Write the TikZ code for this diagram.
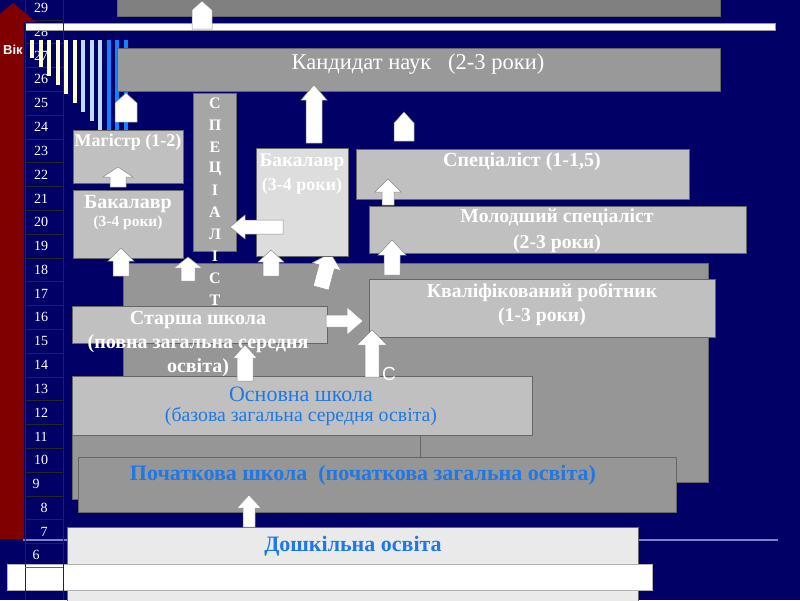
\documentclass[tikz,border=0pt]{standalone}
\usepackage{fontspec}
\setmainfont{Liberation Serif}
\setsansfont{Liberation Sans}
\usepackage{tikz}
\usetikzlibrary{fit}
\definecolor{navy}{RGB}{0,0,102}
\definecolor{vikred}{RGB}{128,0,0}
\definecolor{topgray}{RGB}{128,128,128}
\definecolor{kandgray}{RGB}{153,153,153}
\definecolor{midgray}{RGB}{150,150,150}
\definecolor{specgray}{RGB}{166,166,166}
\definecolor{boxlight}{RGB}{192,192,192}
\definecolor{palegray}{RGB}{221,221,221}
\definecolor{snowgray}{RGB}{234,234,234}
\definecolor{txtblue}{RGB}{30,120,230}
\definecolor{cream}{RGB}{255,255,204}
\definecolor{skyblue}{RGB}{190,220,255}
\definecolor{brightblue}{RGB}{20,130,255}
\definecolor{lavender}{RGB}{128,128,200}
\newcommand{\fs}[2]{\fontsize{#1}{#2}\selectfont}
% block arrow: x, y (tail), angle, length, shaft half, head half, head length
\newcommand{\barr}[7]{\draw[blockarr, shift={(#1,#2)}, rotate=#3]
  (0,-#5) -- (#4-#7,-#5) -- (#4-#7,-#6) -- (#4,0) -- (#4-#7,#6) -- (#4-#7,#5) -- (0,#5) -- cycle;}

\begin{document}
\begin{tikzpicture}[x=1pt,y=-1pt,
  box/.style={draw=black!60, line width=0.6pt, inner sep=0pt},
  blockarr/.style={fill=white, draw=black!45, line width=0.5pt},
  grid/.style={draw=black!85, line width=0.7pt},
  lbl/.style={text=white, inner sep=0pt, align=center},
  bluelbl/.style={text=txtblue, inner sep=0pt, align=center},
  num/.style={text=white, inner sep=0pt, font=\fs{14}{15}}]
\useasboundingbox (0,0) rectangle (800,600);
\fill[navy] (0,0) rectangle (800,600);
\draw[lavender, line width=2pt] (23,540) -- (778,540);
        % Age column
        \foreach \k in {0,...,23} \draw[grid] (25,20+23.8*\k) -- (63,20+23.8*\k);
        \foreach \n [count=\k from 0] in {29,28,...,10} \node[num] (age\n) at (41,8+23.8*\k) {\n};
        \foreach \n/\xx [count=\k from 20] in {9/36,8/44,7/44,6/36} \node[num] (age\n) at (\xx,8+23.8*\k) {\n};
        % Top
        \node[box, draw=black!40, fill=white, fit={(25,23) (775,30)}] (wline) {};
        \node[box, fill=topgray, fit={(117,-5) (720,16)}] (doct) {};
        \barr{202}{29}{90}{28}{10}{10}{9}
        \foreach \sx/\sy in {32/58,40.5/67,49/76,57.5/85,66/94,74.5/103} \fill[cream] (\sx-2,40) rectangle (\sx+2,\sy);
        \foreach \sx/\sy in {83/112,91.5/121,100/130} \fill[skyblue] (\sx-2,40) rectangle (\sx+2,\sy);
        \foreach \sx in {108.5,117,125.5} \fill[brightblue] (\sx-2,40) rectangle (\sx+2,130);
        \node[box, fill=kandgray, fit={(117,48) (720,91)}] (kand) {};
        \node[lbl, font=\fs{22.5}{24}] (kandtxt) at (418,64) {Кандидат наук\ \ \ (2-3 роки)};
        \barr{126}{122}{90}{29}{11}{11}{10}
        \barr{314}{143}{90}{58}{8}{13}{15}
        \barr{404}{141}{90}{29}{10}{10}{11}
        % Background blocks
        \node[box, fill=midgray, fit={(123,263) (708,482)}] (school) {};
        \node[box, fill=midgray, fit={(72,376) (420,499)}] (basic) {};
        \barr{321}{288}{75}{36}{8}{15}{14}
        % Higher education
        \node[box, fill=boxlight, fit={(73,130) (183,183)}] (mag) {};
        \node[lbl, font=\fs{18}{20}\bfseries] (magtxt) at (128,142) {Магістр (1-2)};
        \node[box, fill=boxlight, fit={(73,190) (183,258)}] (bakl) {};
        \node[lbl, font=\fs{20}{22}\bfseries] (bakltxt) at (128,204) {Бакалавр};
        \node[lbl, font=\fs{15.5}{17}\bfseries] (bakltime) at (128,223) {(3-4 роки)};
        \node[box, fill=specgray, fit={(193,93) (236,251)}] (spec) {};
        \node[box, fill=palegray, fit={(256,148) (348,256)}] (bakm) {};
        \node[lbl, font=\fs{19.3}{21}\bfseries] (bakmtxt) at (302,162) {Бакалавр};
        \node[lbl, font=\fs{18}{20}\bfseries] (bakmtime) at (302,186) {(3-4 роки)};
        \node[box, fill=boxlight, fit={(356,149) (689,199)}] (specl) {};
        \node[lbl, font=\fs{20}{22}\bfseries] (specltxt) at (522,162) {Спеціаліст (1-1,5)};
        \node[box, fill=boxlight, fit={(369,206) (746,253)}] (molod) {};
        \node[lbl, font=\fs{19.7}{26}\bfseries] (molodtxt) at (557,231) {Молодший спеціаліст\\(2-3 роки)};
        \node[box, fill=boxlight, fit={(369,279) (715,337)}] (kval) {};
        \node[lbl, font=\fs{19.7}{24}\bfseries] (kvaltxt) at (542,305) {Кваліфікований робітник\\(1-3 роки)};
        \foreach \l [count=\i from 0] in {С,П,Е,Ц,І,А,Л,І,С,Т}
          \node[lbl, font=\fs{16}{17}\bfseries] (sp\i) at (215,103+21.9*\i) {\l};
        % Arrows between levels
        \barr{118}{187}{90}{20}{8}{15}{10}
        \barr{121}{276}{90}{28}{8}{13}{13}
        \barr{188}{281}{90}{24}{7}{14}{11}
        \barr{283}{227}{180}{53}{7}{12}{15}
        \barr{271}{276}{90}{26}{8}{13}{12}
        \barr{388}{205}{90}{26}{6}{13}{13}
        \barr{392}{275}{90}{35}{8}{14}{15}
        % Schools
        \node[box, fill=boxlight, fit={(72,306) (327,343)}] (star) {};
        \node[lbl, font=\fs{20}{24}\bfseries] (startxt) at (198,344) {Старша школа\\(повна загальна середня\\освіта)};
        \node[box, fill=boxlight, fit={(72,376) (532,435)}] (osn) {};
        \node[bluelbl, font=\fs{22}{24}] (osntxt) at (301,394) {Основна школа};
        \node[bluelbl, font=\fs{19.8}{21}] (osnsub) at (301,417) {(базова загальна середня освіта)};
        \barr{245}{381}{90}{36}{8}{12}{13}
        \barr{326}{321}{0}{37}{6}{14}{16}
        \barr{372}{377}{90}{47}{7}{15}{15}
        \node[lbl, font=\sffamily\fs{19}{20}] (cmark) at (389,374) {С};
        \node[box, fill=midgray, fit={(78,457) (676,512)}] (poch) {};
        \node[bluelbl, font=\fs{22}{24}\bfseries] (pochtxt) at (363,475) {Початкова школа\ \ (початкова загальна освіта)};
        \node[box, fill=snowgray, fit={(67,527) (638,605)}] (dosh) {};
        \node[bluelbl, font=\fs{22}{24}\bfseries] (doshtxt) at (353,546) {Дошкільна освіта};
        \node[box, draw=black!30, fill=white, fit={(7,564) (652,590)}] (bar) {};
        \barr{249}{527}{90}{32}{6}{12}{13}
        % Age axis
        \draw[grid] (25,0) -- (25,600);
        \draw[grid] (63,0) -- (63,600);
        \draw[grid, black!60] (25,567) -- (63,567);
        \fill[vikred] (0,22) -- (-10,22) -- (13,3) -- (36,22) -- (24,22) -- (24,539) -- (0,539) -- cycle;
        \node[lbl, font=\sffamily\fs{13}{14}\bfseries] (vik) at (13,50) {Вік};
\end{tikzpicture}
\end{document}
